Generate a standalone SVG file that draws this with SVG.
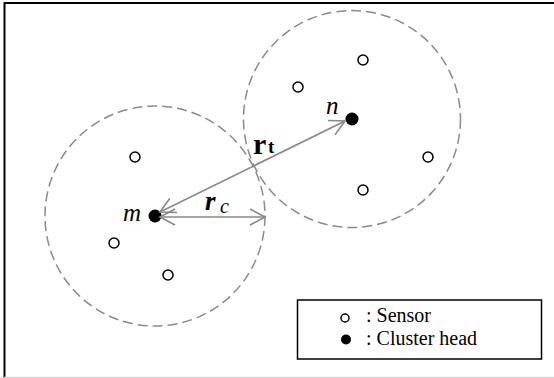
<svg xmlns="http://www.w3.org/2000/svg" width="554" height="378" viewBox="0 0 554 378">
<style>
.range{fill:none;stroke:#8a8a8a;stroke-width:1.5;stroke-dasharray:10,5}
.sensor{fill:#fff;stroke:#000;stroke-width:1.5}
.head{fill:#000}
.conn{stroke:#888;stroke-width:1.6;fill:none}
.serif{font-family:"Liberation Serif","Times New Roman",serif;fill:#000}
.lbl{font-style:italic;font-size:25px}
.leg{font-size:20px}
</style>
<defs>
<marker id="arr" markerUnits="userSpaceOnUse" markerWidth="20" markerHeight="20" viewBox="0 0 20 20" refX="16" refY="9" orient="auto-start-reverse">
<path d="M1,1 L16,9 L1,17" fill="none" stroke="#888" stroke-width="1.6"/>
</marker>
</defs>
<rect x="0" y="0" width="554" height="378" fill="#fff"/>
<path d="M4.5,378 L4.5,3 L554,3" fill="none" stroke="#000" stroke-width="2"/>
<path d="M4,377.5 L554,377.5" fill="none" stroke="#d8d8d8" stroke-width="1.5"/>
<g id="cluster-m">
<circle class="range" cx="155" cy="216" r="110"/>
<circle class="head" cx="155" cy="216" r="6.5"/>
<text class="serif lbl" x="123" y="221">m</text>
<circle class="sensor" cx="135" cy="157" r="5"/>
<circle class="sensor" cx="114" cy="243" r="5"/>
<circle class="sensor" cx="168" cy="275" r="5"/>
</g>
<g id="cluster-n">
<circle class="range" cx="352" cy="119" r="108.5"/>
<circle class="head" cx="352" cy="119" r="6.5"/>
<text class="serif lbl" x="326" y="114">n</text>
<circle class="sensor" cx="363" cy="60" r="5"/>
<circle class="sensor" cx="298" cy="87" r="5"/>
<circle class="sensor" cx="428" cy="157" r="5"/>
<circle class="sensor" cx="363" cy="190" r="5"/>
</g>
<g id="connectors">
<line class="conn" x1="160" y1="212" x2="345" y2="121" marker-start="url(#arr)" marker-end="url(#arr)"/>
<line class="conn" x1="160" y1="217" x2="265" y2="217" marker-start="url(#arr)" marker-end="url(#arr)"/>
</g>
<g id="label-rt">
<text class="serif" x="253" y="154" font-weight="bold" font-size="30">r</text>
<text class="serif" x="268" y="153" font-weight="bold" font-size="19">t</text>
</g>
<g id="label-rc">
<text class="serif" x="205" y="210" font-weight="bold" font-style="italic" font-size="27">r</text>
<text class="serif" x="220" y="213" font-style="italic" font-size="20">c</text>
</g>
<g id="legend">
<rect x="297.5" y="300" width="244" height="59" fill="#fff" stroke="#000" stroke-width="1.5"/>
<circle class="sensor" cx="345" cy="318" r="4"/>
<text class="serif leg" x="366" y="322">: Sensor</text>
<circle class="head" cx="346" cy="339.5" r="5"/>
<text class="serif leg" x="366" y="344.5">: Cluster head</text>
</g>
</svg>
